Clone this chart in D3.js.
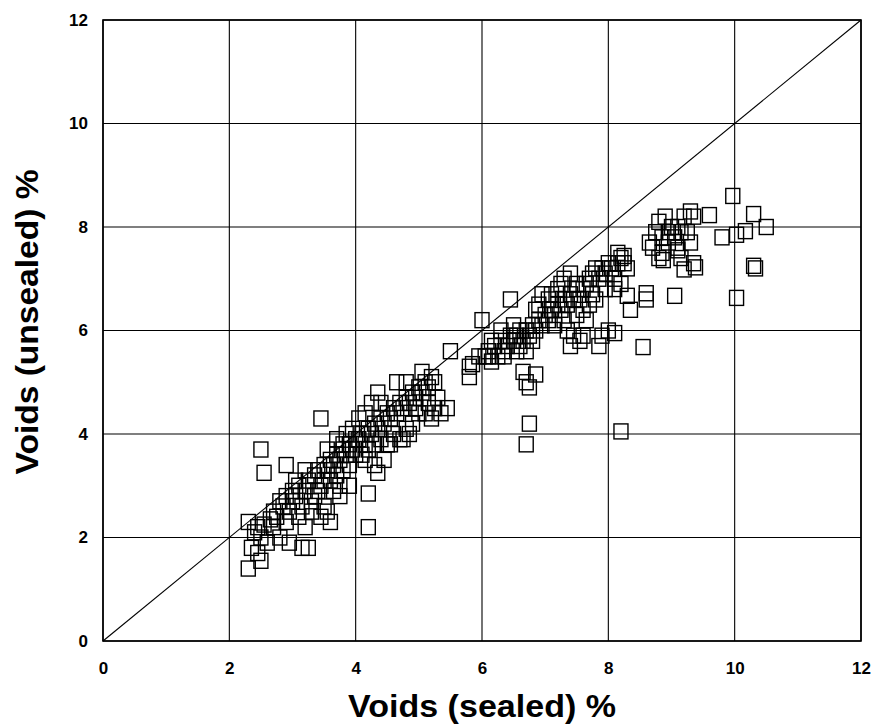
<!DOCTYPE html>
<html><head><meta charset="utf-8">
<script src="https://cdn.jsdelivr.net/npm/d3@7"></script>
<style>body{margin:0;background:#fff;} svg{display:block;}</style>
</head><body>
<script>
const xTicks = [0,2,4,6,8,10,12];
const yTicks = [0,2,4,6,8,10,12];
const xTitle = "Voids (sealed) %";
const yTitle = "Voids (unsealed) %";
// sealed voids (x) and unsealed voids (y)
const sealed = [
2.3,2.4,2.45,2.55,2.5,2.35,2.3,2.5,2.45,2.6,2.5,2.55,
2.7,2.75,2.8,2.85,2.9,2.95,2.7,2.9,3.0,2.95,2.9,2.8,2.65,3.0,
3.05,3.1,3.15,3.2,3.25,3.3,3.35,3.4,3.45,3.5,3.1,3.2,3.3,3.15,3.25,3.45,3.5,3.05,3.4,3.5,3.45,3.35,3.2,
3.55,3.6,3.65,3.7,3.75,3.8,3.85,3.9,3.95,4.0,3.6,3.7,3.8,3.9,3.65,3.75,3.55,3.85,3.95,3.6,3.55,3.75,3.9,4.0,3.7,3.8,
4.05,4.1,4.15,4.2,4.25,4.3,4.35,4.4,4.45,4.5,4.1,4.2,4.3,4.4,4.2,4.2,4.35,4.05,4.15,4.25,4.35,4.45,4.5,4.3,4.15,4.4,
4.55,4.6,4.65,4.7,4.75,4.8,4.85,4.9,4.95,5.0,4.6,4.7,4.8,4.9,4.55,4.75,4.65,4.8,4.85,5.0,4.95,
5.05,5.1,5.15,5.2,5.25,5.3,5.15,5.25,5.35,5.05,5.2,5.45,5.5,5.1,
5.8,5.8,5.85,6.0,5.95,
6.05,6.1,6.15,6.2,6.25,6.3,6.35,6.4,6.45,6.5,6.45,6.5,6.15,6.35,6.3,6.1,
6.55,6.6,6.65,6.7,6.75,6.8,6.85,6.9,6.95,7.0,6.6,6.7,6.55,6.8,6.9,6.95,6.7,6.75,6.7,6.75,6.85,6.65,6.85,
7.05,7.1,7.15,7.2,7.25,7.3,7.35,7.4,7.45,7.5,7.1,7.2,7.3,7.4,7.15,7.3,7.45,7.4,7.35,7.5,7.05,7.25,
7.55,7.6,7.65,7.7,7.75,7.8,7.85,7.9,7.95,8.0,7.6,7.7,7.8,7.55,7.6,7.85,7.9,8.0,7.65,7.75,7.95,7.5,
8.05,8.1,8.15,8.2,8.25,8.3,8.1,8.2,8.3,8.2,8.1,8.15,8.35,8.25,
8.55,8.6,8.6,8.65,8.7,8.75,8.8,8.85,8.9,8.95,9.0,8.85,8.95,8.8,8.87,
9.05,9.05,9.1,9.15,9.1,9.2,9.3,9.35,9.38,9.35,9.25,9.2,9.3,9.15,9.1,
9.6,9.8,10.03,9.97,10.17,10.3,10.5,10.33,10.03,10.3
];
const unsealed = [
2.3,2.1,2.2,2.25,2.0,1.8,1.4,1.55,1.7,1.9,3.7,3.25,
2.5,2.4,2.7,2.6,2.8,2.5,2.2,2.3,2.7,1.9,3.4,2.0,2.35,2.9,
2.8,3.0,2.6,2.9,3.1,2.7,3.2,3.3,3.0,3.4,2.4,2.2,2.5,1.8,1.8,2.4,2.6,3.1,2.9,3.1,4.3,2.8,3.3,
3.3,3.5,3.4,3.6,3.5,3.7,3.6,3.8,3.7,3.9,3.1,3.2,3.3,3.4,2.9,3.0,3.7,4.0,4.1,2.3,2.5,2.8,3.0,3.6,3.9,3.8,
3.9,4.0,3.8,4.1,4.0,4.2,4.1,4.3,4.2,4.4,3.6,3.7,3.8,3.9,2.85,2.2,3.25,4.3,4.4,4.6,4.8,3.5,3.8,3.4,3.5,4.6,
4.3,4.5,4.4,4.6,4.5,4.7,4.6,4.8,4.7,4.9,4.0,3.9,4.1,4.2,3.8,3.9,5.0,5.0,4.0,4.4,4.5,
4.8,5.0,4.9,5.1,5.0,4.7,4.6,4.5,4.4,5.2,4.3,4.5,5.6,4.4,
5.3,5.1,5.35,6.2,5.5,
5.5,5.6,5.4,5.7,5.5,5.8,5.6,5.7,5.9,5.8,6.6,6.1,5.8,5.5,6.0,5.5,
5.9,6.0,5.8,6.0,5.9,6.1,6.0,6.2,6.1,6.3,5.7,5.6,5.6,5.8,6.5,6.7,3.8,4.2,5.0,4.9,5.15,5.2,6.4,
6.2,6.4,6.3,6.5,6.4,6.6,6.5,6.7,6.6,6.8,6.7,6.8,7.0,7.1,6.1,6.2,5.9,5.7,6.0,6.3,6.6,6.9,
6.6,6.8,6.9,7.0,7.1,7.2,7.0,7.2,7.1,7.3,6.4,6.5,6.6,5.8,5.9,5.7,5.9,6.0,6.2,6.7,6.8,6.9,
7.2,7.0,7.3,7.4,7.44,7.2,6.8,6.9,6.67,4.05,5.95,7.5,6.4,7.3,
5.68,6.72,6.6,7.7,7.6,7.9,8.1,7.8,8.2,7.9,8.0,7.5,7.7,7.4,7.36,
6.67,7.8,7.6,7.4,8.0,8.2,8.3,8.2,7.22,7.3,7.9,7.18,7.7,7.9,7.55,
8.23,7.8,7.85,8.6,7.92,8.25,8.0,7.2,6.63,7.25
];
const points = sealed.map((s,i)=>({x:s,y:unsealed[i]}));

const W=882,H=727;
const m={l:103,r:21,t:20,b:86};
const svg=d3.select("body").append("svg").attr("width",W).attr("height",H);
const x=d3.scaleLinear().domain([0,12]).range([m.l,W-m.r]);
const y=d3.scaleLinear().domain([0,12]).range([H-m.b,m.t]);
const font="'Liberation Sans', Arial, Helvetica, sans-serif";

// grid
const g=svg.append("g");
g.selectAll(".vx").data(xTicks).join("line")
 .attr("x1",d=>x(d)).attr("x2",d=>x(d)).attr("y1",y(0)).attr("y2",y(12))
 .attr("stroke","#000").attr("stroke-width",1.1);
g.selectAll(".hy").data(yTicks).join("line")
 .attr("y1",d=>y(d)).attr("y2",d=>y(d)).attr("x1",x(0)).attr("x2",x(12))
 .attr("stroke","#000").attr("stroke-width",1.1);
svg.append("rect").attr("x",x(0)).attr("y",y(12)).attr("width",x(12)-x(0)).attr("height",y(0)-y(12))
 .attr("fill","none").attr("stroke","#000").attr("stroke-width",1.6);
// 1:1 line
svg.append("line").attr("x1",x(0)).attr("y1",y(0)).attr("x2",x(12)).attr("y2",y(12))
 .attr("stroke","#000").attr("stroke-width",1.1);

// axes (labels only)
const xa=d3.axisBottom(x).tickValues(xTicks).tickSize(0).tickPadding(21).tickFormat(d3.format("d"));
svg.append("g").attr("transform",`translate(0,${y(0)})`).call(xa)
 .call(a=>a.select(".domain").remove())
 .selectAll("text").attr("font-family",font).attr("font-weight","bold").attr("font-size",17).attr("fill","#000");
const ya=d3.axisLeft(y).tickValues(yTicks).tickSize(0).tickPadding(15).tickFormat(d3.format("d"));
svg.append("g").attr("transform",`translate(${x(0)},0)`).call(ya)
 .call(a=>a.select(".domain").remove())
 .selectAll("text").attr("font-family",font).attr("font-weight","bold").attr("font-size",17).attr("fill","#000");

// points
const sw=14,sh=15;
svg.append("g").selectAll("rect").data(points).join("rect")
 .attr("x",d=>x(d.x)-sw/2).attr("y",d=>y(d.y)-sh/2).attr("width",sw).attr("height",sh)
 .attr("fill","none").attr("stroke","#000").attr("stroke-width",1.4);

// titles
svg.append("text").attr("x",x(6)).attr("y",717).attr("text-anchor","middle")
 .attr("font-family",font).attr("font-weight","bold").attr("font-size",31)
 .attr("textLength",268).attr("lengthAdjust","spacingAndGlyphs").text(xTitle);
svg.append("text").attr("transform",`translate(38,322) rotate(-90)`).attr("text-anchor","middle")
 .attr("font-family",font).attr("font-weight","bold").attr("font-size",31)
 .attr("textLength",305).attr("lengthAdjust","spacingAndGlyphs").text(yTitle);
</script>
</body></html>
